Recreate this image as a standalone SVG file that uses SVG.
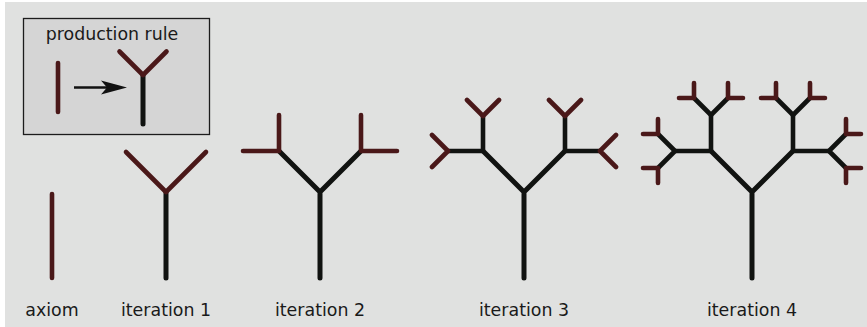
<svg xmlns="http://www.w3.org/2000/svg" width="867" height="327" viewBox="0 0 867 327">
<style>
.bg{fill:#e0e1e0}
.box{fill:#d5d5d5;stroke:#1c1c1c;stroke-width:1.3}
.k{stroke:#111311;stroke-width:5;stroke-linecap:round;stroke-linejoin:round;fill:none}
.k2{stroke:#111311;stroke-width:4.6;stroke-linecap:round;stroke-linejoin:round;fill:none}
.r{stroke:#4a1819;stroke-width:4.6;stroke-linecap:round;stroke-linejoin:round;fill:none}
.t{font-family:"DejaVu Sans",sans-serif;font-size:17.4px;fill:#1a1a1a;text-anchor:middle}
.arr{stroke:#111;stroke-width:2.6;fill:none}
</style>
<defs>
<marker id="ah" markerUnits="userSpaceOnUse" markerWidth="28" markerHeight="16" viewBox="0 0 28 16" refX="11" refY="7.5" orient="auto">
<path d="M0,0.5 L26,7.5 L0,14.5 L6,7.5 Z" fill="#111"/>
</marker>
</defs>
<rect class="bg" x="5" y="2" width="862" height="325"/>

<g id="rule">
<rect class="box" x="23.5" y="18.5" width="186" height="116"/>
<text class="t" x="112" y="40">production rule</text>
<path class="r" d="M58,63 V112"/>
<path class="k" d="M143,124 V75"/>
<path class="r" d="M119.5,51.5 L143,75 L166.5,51.5"/>
</g>

<g id="connectors">
<line class="arr" x1="74" y1="87.5" x2="112" y2="87.5" marker-end="url(#ah)"/>
</g>

<g id="axiom">
<path class="r" d="M52,194 V278"/>
</g>

<g id="iter1">
<path class="k" d="M166,278 V192"/>
<path class="r" d="M126,152 L166,192 L206,152"/>
</g>

<g id="iter2">
<path class="k" d="M320,278 V192 M279,151 L320,192 L361,151"/>
<path class="r" d="M243,151 H279 V115 M361,115 V151 H397"/>
</g>

<g id="iter3">
<path class="k" d="M524,278 V192 M483,151 L524,192 L565,151"/>
<path class="k2" d="M448,151 H483 V116 M565,116 V151 H600"/>
<path class="r" d="M467,100 L483,116 L499,100 M432,135 L448,151 L432,167 M549,100 L565,116 L581,100 M616,135 L600,151 L616,167"/>
</g>

<g id="iter4">
<path class="k" d="M752,278 V192 M711,151 L752,192 L793,151"/>
<path class="k2" d="M675,151 H711 V115 M793,115 V151 H829"/>
<path class="k2" d="M694,98 L711,115 L728,98 M658,134 L675,151 L658,168 M776,98 L793,115 L810,98 M846,134 L829,151 L846,168"/>
<path class="r" d="M694,83 V98 H679 M728,83 V98 H743 M658,119 V134 H643 M643,168 H658 V183 M776,83 V98 H761 M810,83 V98 H825 M846,119 V134 H861 M861,168 H846 V183"/>
</g>

<g id="labels">
<text class="t" x="52" y="316">axiom</text>
<text class="t" x="166" y="316">iteration 1</text>
<text class="t" x="320" y="316">iteration 2</text>
<text class="t" x="524" y="316">iteration 3</text>
<text class="t" x="752" y="316">iteration 4</text>
</g>
</svg>
